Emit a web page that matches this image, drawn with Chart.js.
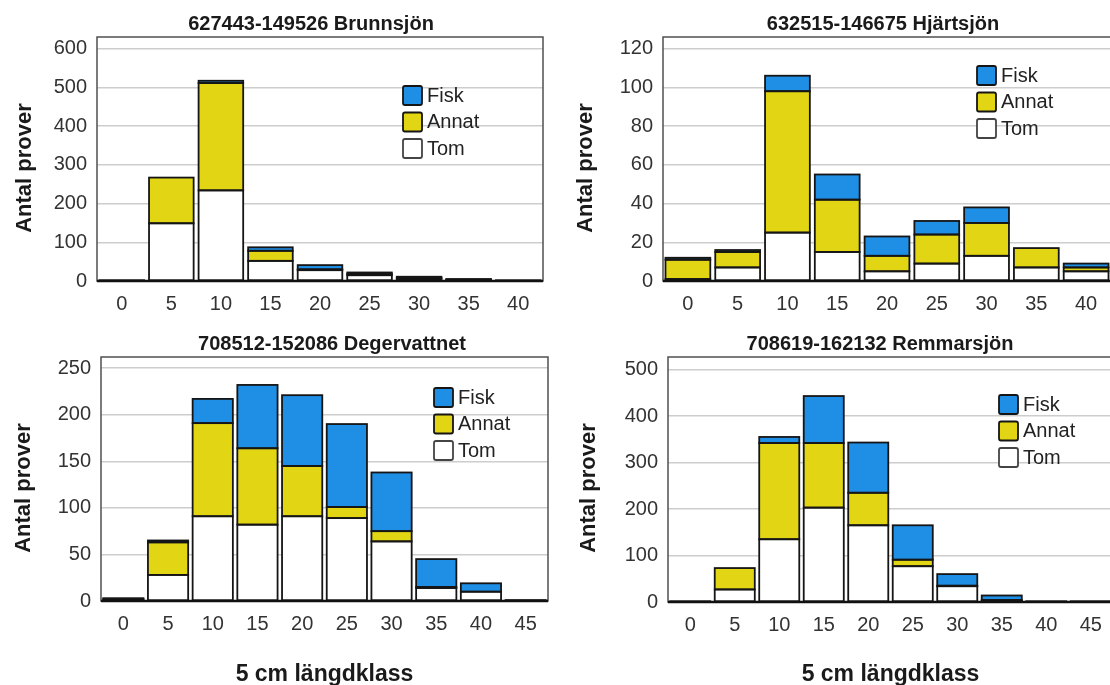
<!DOCTYPE html>
<html lang="sv">
<head>
<meta charset="utf-8">
<title>Maginnehåll per längdklass</title>
<script src="https://cdn.jsdelivr.net/npm/chart.js@4.4.1/dist/chart.umd.min.js"></script>
<style>
  html, body { margin: 0; padding: 0; background: #ffffff; overflow: hidden; width: 1110px; height: 685px; position: relative; }
  canvas { position: absolute; }
</style>
</head>
<body>
<canvas id="brunnsjon" width="555" height="320" style="left:0px;top:0px"></canvas>
<canvas id="hjartsjon" width="560" height="320" style="left:555px;top:0px"></canvas>
<canvas id="degervattnet" width="555" height="365" style="left:0px;top:320px"></canvas>
<canvas id="remmarsjon" width="560" height="365" style="left:555px;top:320px"></canvas>
<script>
// Längdklasser (5 cm)
const klasser9 = ['0', '5', '10', '15', '20', '25', '30', '35', '40'];
const klasser10 = ['0', '5', '10', '15', '20', '25', '30', '35', '40', '45'];

// 627443-149526 Brunnsjön
const brunnsjonTom   = [2, 149, 234, 52, 28, 15, 6, 3, 1];
const brunnsjonAnnat = [0, 118, 277, 26, 2, 3, 2, 1, 0];
const brunnsjonFisk  = [0, 0, 6, 9, 11, 4, 3, 1, 0];

// 632515-146675 Hjärtsjön
const hjartsjonTom   = [1, 7, 25, 15, 5, 9, 13, 7, 5];
const hjartsjonAnnat = [10, 8, 73, 27, 8, 15, 17, 10, 2];
const hjartsjonFisk  = [1, 1, 8, 13, 10, 7, 8, 0, 2];

// 708512-152086 Degervattnet
const degervattnetTom   = [2, 28, 91, 82, 91, 89, 64, 14, 10, 1];
const degervattnetAnnat = [1, 35, 100, 82, 54, 12, 11, 1, 0, 0];
const degervattnetFisk  = [0, 2, 26, 68, 76, 89, 63, 30, 9, 0];

// 708619-162132 Remmarsjön
const remmarsjonTom   = [1, 27, 135, 203, 165, 77, 34, 3, 1, 1];
const remmarsjonAnnat = [0, 46, 207, 139, 70, 14, 1, 1, 0, 0];
const remmarsjonFisk  = [0, 0, 13, 101, 108, 74, 25, 10, 0, 0];

const FONT = "'Liberation Sans', Arial, sans-serif";
const GUL = '#e2d614';
const BLA = '#1f8fe5';
const KANT = '#151515';

// Konturer runt varje stapeldel, ritade som centrerade linjer
// så att även mycket låga staplar syns som ett svart streck
const barOutline = {
    id: 'barOutline',
    afterDatasetsDraw(chart) {
        const ctx = chart.ctx;
        ctx.save();
        ctx.strokeStyle = KANT;
        ctx.lineWidth = 1.8;
        chart.data.datasets.forEach((ds, i) => {
            const meta = chart.getDatasetMeta(i);
            meta.data.forEach((bar, j) => {
                if (!ds.data[j]) return;
                const p = bar.getProps(['x', 'y', 'base', 'width'], true);
                ctx.strokeRect(p.x - p.width / 2, p.y, p.width, p.base - p.y);
            });
        });
        ctx.restore();
    }
};

// Ram, axellinje, rubriker och teckenförklaring
const panelDecor = {
    id: 'panelDecor',
    afterDraw(chart, args, opts) {
        const ctx = chart.ctx;
        const a = chart.chartArea;
        ctx.save();

        // ram runt diagramytan
        ctx.strokeStyle = '#505050';
        ctx.lineWidth = 1.5;
        ctx.strokeRect(a.left, a.top, a.right - a.left, a.bottom - a.top);

        // x-axelns linje
        ctx.strokeStyle = '#111111';
        ctx.lineWidth = 2.5;
        ctx.beginPath();
        ctx.moveTo(a.left, a.bottom);
        ctx.lineTo(a.right, a.bottom);
        ctx.stroke();

        // rubrik
        ctx.fillStyle = '#1a1a1a';
        ctx.font = 'bold 20px ' + FONT;
        ctx.textAlign = 'center';
        ctx.textBaseline = 'alphabetic';
        ctx.fillText(opts.title, opts.titleX, 30);

        // y-axelns titel
        ctx.save();
        ctx.translate(opts.yTitleX, 168);
        ctx.rotate(-Math.PI / 2);
        ctx.font = 'bold 22px ' + FONT;
        ctx.textBaseline = 'middle';
        ctx.fillText('Antal prover', 0, 0);
        ctx.restore();

        // x-axelns titel (bara nedre raden)
        if (opts.xTitle) {
            ctx.font = 'bold 23px ' + FONT;
            ctx.textAlign = 'center';
            ctx.textBaseline = 'alphabetic';
            ctx.fillText(opts.xTitle, (a.left + a.right) / 2, 361);
        }

        // teckenförklaring: Fisk, Annat, Tom uppifrån
        const sets = chart.data.datasets.slice().reverse();
        ctx.font = '20px ' + FONT;
        ctx.textAlign = 'left';
        ctx.textBaseline = 'middle';
        sets.forEach((ds, i) => {
            const x = opts.legendX;
            const y = opts.legendY + i * 26.5;
            ctx.fillStyle = ds.backgroundColor;
            ctx.strokeStyle = ds.label === 'Tom' ? '#444444' : KANT;
            ctx.lineWidth = 1.8;
            ctx.beginPath();
            ctx.roundRect(x, y, 19, 19, 2);
            ctx.fill();
            ctx.stroke();
            ctx.fillStyle = '#222222';
            ctx.fillText(ds.label, x + 24, y + 10);
        });

        ctx.restore();
    }
};

// Skapar ett staplat diagram för en sjö
function makePanel(id, opt) {
    const canvas = document.getElementById(id);
    const area = opt.area; // [vänster, topp, höger, botten] i canvas-pixlar

    const datasets = [
        { label: 'Tom', data: opt.tom, backgroundColor: '#ffffff' },
        { label: 'Annat', data: opt.annat, backgroundColor: GUL },
        { label: 'Fisk', data: opt.fisk, backgroundColor: BLA }
    ].map(ds => Object.assign(ds, {
        borderWidth: 0,
        inflateAmount: 0,
        barPercentage: 0.9,
        categoryPercentage: 1
    }));

    return new Chart(canvas, {
        type: 'bar',
        data: { labels: opt.labels, datasets: datasets },
        options: {
            responsive: false,
            animation: false,
            layout: {
                padding: { left: 0, top: area[1], right: canvas.width - area[2], bottom: 0 }
            },
            plugins: {
                legend: { display: false },
                title: { display: false },
                tooltip: { enabled: false },
                panelDecor: {
                    title: opt.title,
                    titleX: opt.titleX,
                    yTitleX: opt.yTitleX,
                    xTitle: opt.xTitle,
                    legendX: opt.legendX,
                    legendY: opt.legendY
                }
            },
            scales: {
                x: {
                    stacked: true,
                    offset: true,
                    grid: { display: false },
                    border: { display: false },
                    ticks: {
                        color: '#333333',
                        font: { family: FONT, size: 20 },
                        padding: 3,
                        maxRotation: 0,
                        autoSkip: false
                    },
                    afterFit: (scale) => { scale.height = canvas.height - area[3]; }
                },
                y: {
                    stacked: true,
                    min: 0,
                    max: opt.yMax,
                    border: { display: false },
                    grid: { color: '#cdcdcd', lineWidth: 1.5, drawTicks: false },
                    ticks: {
                        stepSize: opt.yStep,
                        includeBounds: false,
                        color: '#333333',
                        font: { family: FONT, size: 20 },
                        padding: 10
                    },
                    afterFit: (scale) => { scale.width = area[0]; }
                }
            }
        },
        plugins: [barOutline, panelDecor]
    });
}

makePanel('brunnsjon', {
    title: '627443-149526 Brunnsjön', titleX: 311, yTitleX: 25,
    labels: klasser9, tom: brunnsjonTom, annat: brunnsjonAnnat, fisk: brunnsjonFisk,
    yMax: 630, yStep: 100, area: [97, 37, 543, 281],
    legendX: 403, legendY: 86
});

makePanel('hjartsjon', {
    title: '632515-146675 Hjärtsjön', titleX: 328, yTitleX: 31,
    labels: klasser9, tom: hjartsjonTom, annat: hjartsjonAnnat, fisk: hjartsjonFisk,
    yMax: 126, yStep: 20, area: [108, 37, 556, 281],
    legendX: 422, legendY: 66
});

makePanel('degervattnet', {
    title: '708512-152086 Degervattnet', titleX: 332, yTitleX: 24,
    xTitle: '5 cm längdklass',
    labels: klasser10, tom: degervattnetTom, annat: degervattnetAnnat, fisk: degervattnetFisk,
    yMax: 262, yStep: 50, area: [101, 37, 548, 281],
    legendX: 434, legendY: 68
});

makePanel('remmarsjon', {
    title: '708619-162132 Remmarsjön', titleX: 325, yTitleX: 34,
    xTitle: '5 cm längdklass',
    labels: klasser10, tom: remmarsjonTom, annat: remmarsjonAnnat, fisk: remmarsjonFisk,
    yMax: 527, yStep: 100, area: [113, 37, 558, 282],
    legendX: 444, legendY: 75
});
</script>
</body>
</html>
